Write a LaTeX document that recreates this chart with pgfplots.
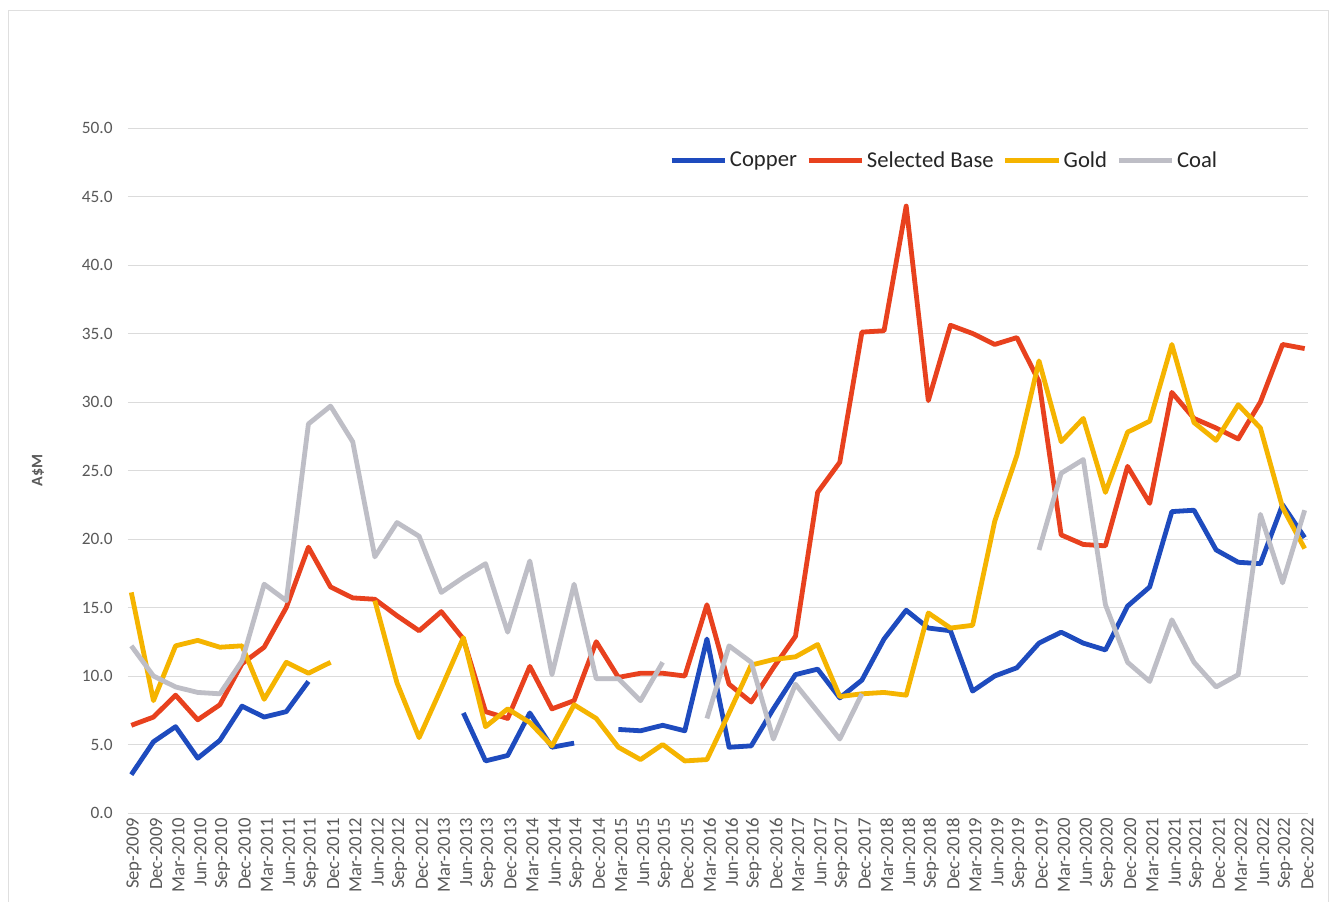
\documentclass[border=0pt]{standalone}
\usepackage{fontspec}
\setmainfont{Carlito}
\usepackage{pgfplots}
\pgfplotsset{compat=1.18}
\usepackage{pgfplotstable}
\definecolor{cCu}{HTML}{1E4BBE}
\definecolor{cSB}{HTML}{E8411E}
\definecolor{cAu}{HTML}{F5B400}
\definecolor{cCoal}{HTML}{BEBEC6}
\definecolor{tick}{HTML}{595959}
\pgfplotstableread{
i cu sb au coal
0 2.8 6.4 16.1 12.2
1 5.2 7.0 8.2 10.0
2 6.3 8.6 12.2 9.2
3 4.0 6.8 12.6 8.8
4 5.3 7.9 12.1 8.7
5 7.8 10.9 12.2 11.1
6 7.0 12.1 8.3 16.7
7 7.4 15.0 11.0 15.5
8 9.6 19.4 10.2 28.4
9 nan 16.5 11.0 29.7
10 nan 15.7 nan 27.1
11 nan 15.6 15.5 18.7
12 nan 14.4 9.5 21.2
13 nan 13.3 5.5 20.2
14 nan 14.7 9.1 16.1
15 7.3 12.7 12.8 17.2
16 3.8 7.4 6.3 18.2
17 4.2 6.9 7.6 13.2
18 7.3 10.7 6.6 18.4
19 4.8 7.6 4.9 10.1
20 5.1 8.2 7.9 16.7
21 nan 12.5 6.9 9.8
22 6.1 9.9 4.8 9.8
23 6.0 10.2 3.9 8.2
24 6.4 10.2 5.0 11.0
25 6.0 10.0 3.8 nan
26 12.7 15.2 3.9 6.9
27 4.8 9.4 7.3 12.2
28 4.9 8.1 10.8 11.0
29 7.6 10.6 11.2 5.4
30 10.1 12.9 11.4 9.4
31 10.5 23.4 12.3 7.4
32 8.4 25.6 8.5 5.4
33 9.7 35.1 8.7 8.7
34 12.7 35.2 8.8 nan
35 14.8 44.3 8.6 nan
36 13.5 30.1 14.6 nan
37 13.3 35.6 13.5 nan
38 8.9 35.0 13.7 nan
39 10.0 34.2 21.3 nan
40 10.6 34.7 26.1 nan
41 12.4 31.5 33.0 19.2
42 13.2 20.3 27.1 24.8
43 12.4 19.6 28.8 25.8
44 11.9 19.5 23.4 15.2
45 15.1 25.3 27.8 11.0
46 16.5 22.6 28.6 9.6
47 22.0 30.7 34.2 14.1
48 22.1 28.8 28.5 11.0
49 19.2 28.1 27.2 9.2
50 18.3 27.3 29.8 10.1
51 18.2 30.0 28.1 21.8
52 22.5 34.2 22.3 16.8
53 20.1 33.9 19.3 22.1
}\data
\begin{document}
\begin{tikzpicture}
\useasboundingbox (-96pt,-66.75pt) rectangle (903pt,609.75pt);
\fill[white] (-96pt,-66.75pt) rectangle (903pt,609.75pt);
\draw[gray!25, line width=0.6pt] (-90pt,-66.75pt) -- (-90pt,602.25pt) -- (900pt,602.25pt) -- (900pt,-66.75pt);
\begin{axis}[
 at={(0,0)}, anchor=south west, scale only axis,
 width=885pt, height=513.75pt,
 xmin=-0.15, xmax=53.15, ymin=0, ymax=50,
 axis line style={draw=none},
 ytick={0,5,...,50}, xtick={0,...,53},
 xticklabels={Sep-2009,Dec-2009,Mar-2010,Jun-2010,Sep-2010,Dec-2010,Mar-2011,Jun-2011,Sep-2011,Dec-2011,Mar-2012,Jun-2012,Sep-2012,Dec-2012,Mar-2013,Jun-2013,Sep-2013,Dec-2013,Mar-2014,Jun-2014,Sep-2014,Dec-2014,Mar-2015,Jun-2015,Sep-2015,Dec-2015,Mar-2016,Jun-2016,Sep-2016,Dec-2016,Mar-2017,Jun-2017,Sep-2017,Dec-2017,Mar-2018,Jun-2018,Sep-2018,Dec-2018,Mar-2019,Jun-2019,Sep-2019,Dec-2019,Mar-2020,Jun-2020,Sep-2020,Dec-2020,Mar-2021,Jun-2021,Sep-2021,Dec-2021,Mar-2022,Jun-2022,Sep-2022,Dec-2022},
 major tick length=0,
 ymajorgrids, grid style={gray!28, line width=0.7pt},
 /pgf/number format/assume math mode=true,
 yticklabel style={font=\fontsize{13}{15}\selectfont, color=tick, xshift=-8pt, /pgf/number format/fixed, /pgf/number format/fixed zerofill, /pgf/number format/precision=1},
 xticklabel style={font=\fontsize{14}{16}\selectfont, color=tick, rotate=90, anchor=east, yshift=-2pt},
 ylabel={A\$M},
 ylabel style={font=\bfseries\fontsize{12}{14}\selectfont, color=tick, at={(axis description cs:-0.0763,0.5)}, anchor=center},
 unbounded coords=jump,
 legend columns=4,
 legend style={at={(0.692,0.953)}, anchor=center, draw=none, fill=none, font=\fontsize{17}{19}\selectfont, text=black!85, /tikz/every even column/.append style={column sep=5pt}},
 legend image code/.code={\draw[#1, line width=3.5pt] (0pt,0pt) -- (40pt,0pt);},
 every axis plot/.append style={line width=3.6pt, line join=round, no markers},
]
\addplot[cCu] table[x=i, y=cu] {\data};
\addlegendentry{Copper}
\addplot[cSB] table[x=i, y=sb] {\data};
\addlegendentry{Selected Base}
\addplot[cAu] table[x=i, y=au] {\data};
\addlegendentry{Gold}
\addplot[cCoal] table[x=i, y=coal] {\data};
\addlegendentry{Coal}
\end{axis}
\end{tikzpicture}
\end{document}
